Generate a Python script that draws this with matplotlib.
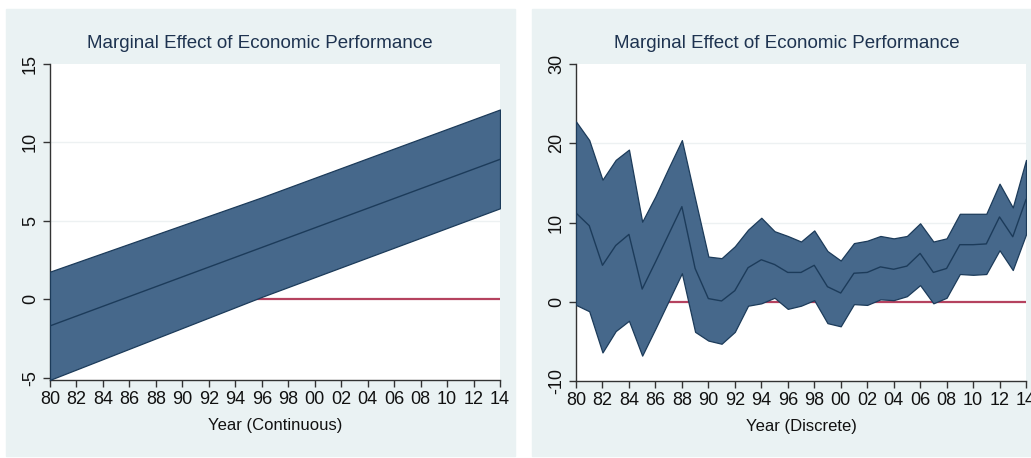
import numpy as np
import matplotlib
matplotlib.use('Agg')
import matplotlib.pyplot as plt
from matplotlib.patches import Rectangle

plt.rcParams['font.family'] = ['Liberation Sans', 'DejaVu Sans']

# continuous-year model: prediction and 95% band
cont_years = [1980, 1996, 2014]
cont_mid = [-1.70, 3.30, 8.92]
cont_lo = [-5.14, 0.15, 5.80]
cont_hi = [1.76, 6.50, 12.10]

# discrete-year model: one estimate per year
disc_years = list(range(1980, 2015))
disc_mid = [11.2, 9.6, 4.6, 7.1, 8.5, 1.6, 5.0, 8.5, 12.0, 4.2,
            0.4, 0.1, 1.4, 4.3, 5.3, 4.7, 3.7, 3.7, 4.6, 1.9,
            1.1, 3.6, 3.7, 4.4, 4.1, 4.5, 6.1, 3.7, 4.2, 7.2,
            7.2, 7.3, 10.7, 8.2, 12.9]
disc_lo = [-0.4, -1.2, -6.4, -3.7, -2.4, -6.8, -3.4, 0.1, 3.6, -3.8,
           -4.9, -5.3, -3.8, -0.5, -0.2, 0.5, -0.9, -0.5, 0.2, -2.7,
           -3.1, -0.3, -0.4, 0.3, 0.2, 0.7, 2.1, -0.2, 0.5, 3.5,
           3.4, 3.5, 6.5, 4.0, 8.5]
disc_hi = [22.75, 20.4, 15.4, 17.9, 19.2, 10.1, 13.3, 16.9, 20.4, 13.0,
           5.7, 5.5, 7.0, 9.1, 10.6, 8.9, 8.3, 7.6, 9.0, 6.4,
           5.2, 7.4, 7.7, 8.3, 8.0, 8.3, 9.9, 7.6, 8.0, 11.1,
           11.1, 11.1, 14.9, 11.9, 17.9]

tick_years = list(range(1980, 2015, 2))
tick_labels = ['%02d' % (y % 100) for y in tick_years]

title = 'Marginal Effect of Economic Performance'
bg = '#eaf2f3'
band = '#46688b'
dark = '#1c3b5a'
red = '#b5425f'

W, H = 1031, 458
fig = plt.figure(figsize=(W / 100, H / 100), dpi=100)
fig.patch.set_facecolor('white')

# grey-blue graph regions behind each plot
fig.patches.append(Rectangle((6 / W, 2 / H), 509 / W, 447 / H,
                             transform=fig.transFigure, color=bg, zorder=-10))
fig.patches.append(Rectangle((532 / W, 2 / H), 520 / W, 447 / H,
                             transform=fig.transFigure, color=bg, zorder=-10))


def draw(ax, x, lo, mid, hi, ylim, yticks, grid, xlabel):
    ax.set_facecolor('white')
    for g in grid:
        ax.axhline(g, color='#edf1f2', lw=1.0, zorder=1)
    ax.plot([1980, 2014], [0, 0], color=red, lw=1.6, zorder=2)
    ax.fill_between(x, lo, hi, facecolor=band, edgecolor=dark, lw=0.9, zorder=3)
    ax.plot(x, mid, color=dark, lw=1.0, zorder=4)
    ax.set_xlim(1980, 2014)
    ax.set_ylim(*ylim)
    ax.set_xticks(tick_years)
    ax.set_xticklabels(tick_labels)
    ax.set_yticks(yticks)
    ax.set_yticklabels([str(t) for t in yticks], rotation=90, va='center')
    for s in ['top', 'right']:
        ax.spines[s].set_visible(False)
    for s in ['left', 'bottom']:
        ax.spines[s].set_color('#333333')
        ax.spines[s].set_linewidth(1.0)
    ax.tick_params(direction='out', length=5, width=1, color='#333333',
                   labelsize=13, labelcolor='#111111', pad=3)
    ax.set_xlabel(xlabel, fontsize=12, color='#111111', labelpad=7)


ax1 = fig.add_axes([50 / W, 1 - 380 / H, 450 / W, 316 / H])
draw(ax1, cont_years, cont_lo, cont_mid, cont_hi, (-5.15, 15),
     [-5, 0, 5, 10, 15], [5, 10], 'Year (Continuous)')

ax2 = fig.add_axes([576 / W, 1 - 381 / H, 450 / W, 317 / H])
draw(ax2, disc_years, disc_lo, disc_mid, disc_hi, (-10, 30),
     [-10, 0, 10, 20, 30], [10, 20], 'Year (Discrete)')

fig.text(260 / W, 1 - 44 / H, title, ha='center', va='center',
         fontsize=13.5, color='#1e3350')
fig.text(787 / W, 1 - 44 / H, title, ha='center', va='center',
         fontsize=13.5, color='#1e3350')

fig.savefig('out.png', dpi=100, facecolor=fig.get_facecolor())
